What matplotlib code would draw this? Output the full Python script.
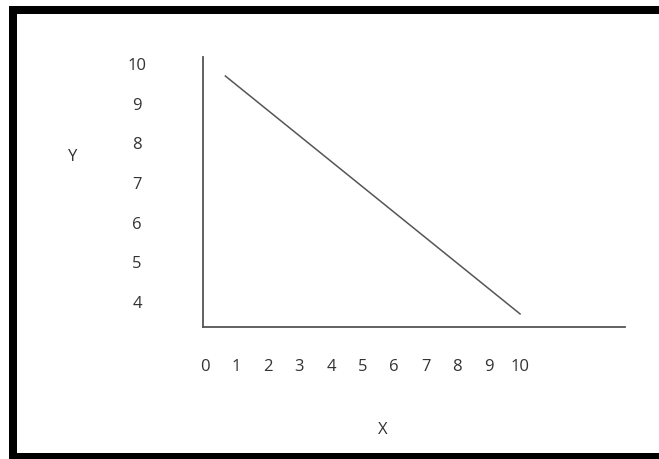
import matplotlib
matplotlib.use('Agg')
import matplotlib.pyplot as plt
from matplotlib.patches import Rectangle

# data
x_ticks = [0, 1, 2, 3, 4, 5, 6, 7, 8, 9, 10]
y_ticks = [4, 5, 6, 7, 8, 9, 10]
line_x = [0.65, 10.0]
line_y = [9.7, 3.7]

W, H = 659, 459
fig = plt.figure(figsize=(W / 100, H / 100), dpi=100)
fig.patch.set_facecolor('white')
plt.rcParams['font.family'] = ['Open Sans', 'DejaVu Sans']

# pixel box of the axes: left 203, right 625, top 57, bottom 327
ax = fig.add_axes([203 / W, 1 - 327 / H, 422 / W, 270 / H])
ax.set_facecolor('white')
ax.set_xlim(-0.06, 13.33)
ax.set_ylim(3.37, 10.18)

axis_col = '#555555'
for side in ['top', 'right']:
    ax.spines[side].set_visible(False)
for side in ['left', 'bottom']:
    ax.spines[side].set_color(axis_col)
    ax.spines[side].set_linewidth(1.3)

ax.plot(line_x, line_y, color='#555555', linewidth=1.1)

txt_col = '#333333'
ax.set_xticks(x_ticks)
ax.set_yticks(y_ticks)
ax.set_xticklabels([str(v) for v in x_ticks])
ax.set_yticklabels([str(v) for v in y_ticks])
ax.tick_params(axis='x', length=0, pad=23, labelsize=12, labelcolor=txt_col)
ax.tick_params(axis='y', length=0, pad=47.5, labelsize=12, labelcolor=txt_col)
for lbl in ax.get_yticklabels():
    lbl.set_horizontalalignment('center')

ax.set_xlabel('X', fontsize=12, color=txt_col)
ax.xaxis.set_label_coords((383 - 203) / 422, (327 - 430) / 270)
ax.xaxis.label.set_verticalalignment('center')
ax.set_ylabel('Y', fontsize=12, color=txt_col, rotation=0)
ax.yaxis.set_label_coords((73 - 203) / 422, (327 - 157) / 270)
ax.yaxis.label.set_verticalalignment('center')
ax.yaxis.label.set_horizontalalignment('center')

# thick black frame around the picture (right side is cut off)
def band(x0, y0, x1, y1):
    fig.patches.append(Rectangle((x0 / W, 1 - y1 / H), (x1 - x0) / W, (y1 - y0) / H,
                                 transform=fig.transFigure, facecolor='black',
                                 edgecolor='none'))

band(9, 6, W, 14)
band(9, 6, 17, H)
band(9, 453, W, H)

fig.savefig('out.png', dpi=100)
